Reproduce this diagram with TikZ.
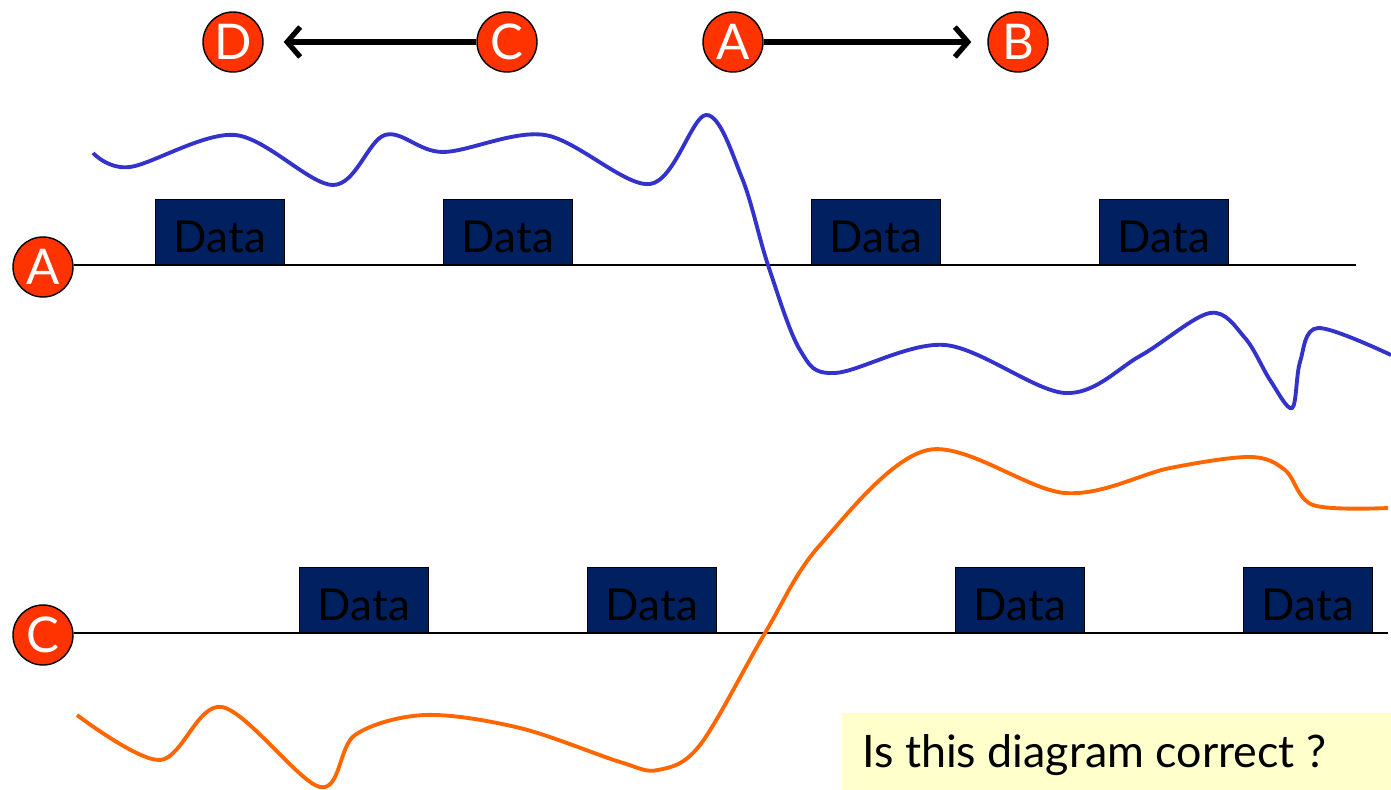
\documentclass[tikz,border=0pt]{standalone}
\usepackage{fontspec}
\setmainfont{Lato}
\usetikzlibrary{arrows.meta, positioning}
\definecolor{DotRed}{RGB}{255,51,0}
\definecolor{BoxNavy}{RGB}{0,32,96}
\definecolor{WaveBlue}{RGB}{51,51,204}
\definecolor{WaveOrange}{RGB}{255,102,0}
\definecolor{NoteYellow}{RGB}{255,255,204}

\begin{document}
\begin{tikzpicture}[
    x=0.02cm, y=-0.02cm,
    dot/.style={
        circle,
        draw=black,
        line width=0.8pt,
        fill=DotRed,
        text=white,
        minimum size=1.2cm,
        inner sep=0pt,
        font=\fontsize{28}{30}\selectfont
    },
    databox/.style={
        draw=black,
        line width=0.5pt,
        fill=BoxNavy,
        text=black,
        minimum width=2.58cm,
        minimum height=1.3cm,
        text height=0.8cm,
        text depth=0pt,
        anchor=south west,
        inner sep=0pt,
        font=\fontsize{25}{28}\selectfont
    },
    arr/.style={-{Straight Barb[length=0.26cm, width=0.6cm]}, line width=3pt},
    wire/.style={line width=0.8pt},
    wave/.style={line width=2.2pt, color=#1, smooth, tension=0.55}
]
\useasboundingbox (0,0) rectangle (1391,790);

% TOP LEGEND
\node[dot] (d) at (233,42) {D};
\node[dot] (c) at (507,42) {C};
\node[dot] (a) at (733,42) {A};
\node[dot] (b) at (1018,42) {B};

\draw[arr, shorten >=0.4cm] (c) -- (d);
\draw[arr, shorten >=0.32cm] (a) -- (b);

% STATION A
\node[dot] (la) at (43,267) {A};
\coordinate (aend) at (1356,265);
\draw[wire] (la.east |- aend) -- (aend);

\node[databox] (a1) at (155,265) {Data};
\node[databox] (a2) at (443,265) {Data};
\node[databox] (a3) at (811,265) {Data};
\node[databox] (a4) at (1099,265) {Data};

% STATION C
\node[dot] (lc) at (43,635) {C};
\coordinate (cend) at (1388,633);
\draw[wire] (lc.east |- cend) -- (cend);

\node[databox] (c1) at (299,633) {Data};
\node[databox] (c2) at (587,633) {Data};
\node[databox] (c3) at (955,633) {Data};
\node[databox] (c4) at (1243,633) {Data};

% SIGNALS
\draw[wave=WaveBlue] plot coordinates {
    (93,153) (130,167) (235,135) (333,185) (385,135) (443,152)
    (545,135) (650,184) (706,115) (742,178) (768,265) (800,350)
    (835,373) (945,345) (1065,393) (1140,356) (1210,313) (1245,338)
    (1270,380) (1292,408) (1300,362) (1318,328) (1391,355)};

\draw[wave=WaveOrange] plot coordinates {
    (77,715) (160,760) (222,707) (320,787) (355,735) (425,715)
    (520,728) (620,762) (658,770) (700,745) (765,633) (820,545)
    (928,450) (1065,493) (1170,468) (1250,457) (1285,470)
    (1313,505) (1388,508)};

% QUESTION
\node[fill=NoteYellow, anchor=north west, minimum width=10.98cm,
      minimum height=1.54cm, inner sep=0pt] (note) at (842,713) {};
\node[anchor=west, inner sep=0pt, font=\fontsize{25.5}{28}\selectfont]
    (q) at (862,755) {Is this diagram correct ?};

\end{tikzpicture}
\end{document}
